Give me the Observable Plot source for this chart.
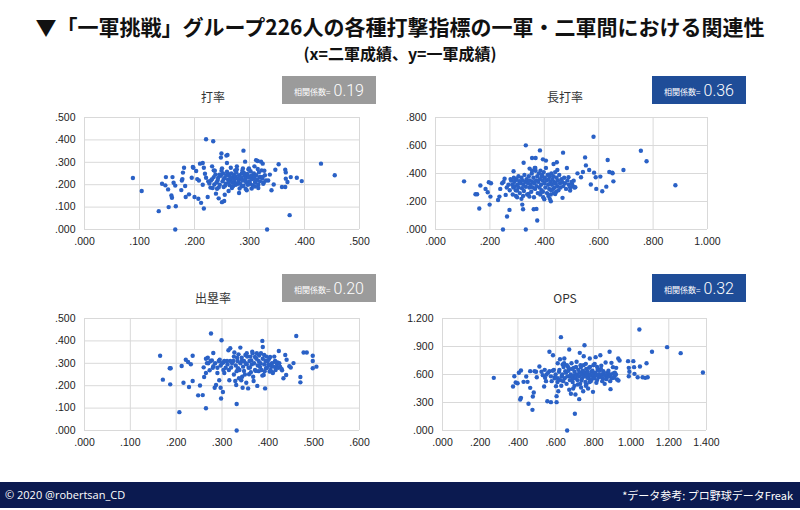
<!DOCTYPE html>
<html>
<head>
<meta charset="utf-8">
<script src="https://cdn.jsdelivr.net/npm/d3@7"></script>
<script src="https://cdn.jsdelivr.net/npm/@observablehq/plot@0.6"></script>
<style>
  html, body { margin: 0; padding: 0; background: #fff; }
  #root { position: relative; width: 800px; height: 510px; overflow: hidden; background: #fff; }
  .abs { position: absolute; }
  .title { left: 0; width: 800px; top: 15px; text-align: center; font-family: "Noto Sans CJK JP", sans-serif; font-weight: 700; font-size: 21px; line-height: 22px; color: #111; white-space: nowrap; }
  .subtitle { left: 0; width: 800px; top: 44px; text-align: center; font-family: "Noto Sans CJK JP", sans-serif; font-weight: 700; font-size: 16px; line-height: 18px; color: #111; white-space: nowrap; }
  .ptitle { width: 120px; text-align: center; font-family: "Noto Sans CJK JP", sans-serif; font-size: 12px; line-height: 16px; color: #333; }
  .badge { width: 94px; height: 28px; display: flex; align-items: center; justify-content: center; color: #fff; white-space: nowrap; }
  .badge .lab { font-family: "Noto Sans CJK JP", sans-serif; font-size: 8px; margin-right: 3px; margin-top: 3px; }
  .badge .val { font-family: Roboto, "Liberation Sans", sans-serif; font-weight: 300; font-size: 16px; }
  .footer { left: 0; top: 482px; width: 800px; height: 26px; background: #0b1a50; color: #fff; font-family: "Open Sans", "Liberation Sans", sans-serif; font-size: 11px; }
  .footer .l { position: absolute; left: 5px; top: 5px; }
  .footer .r { position: absolute; right: 7px; top: 5px; font-family: "Noto Sans CJK JP", sans-serif; }
</style>
</head>
<body>
<div id="root"></div>
<script>
// ---------- data (x = 二軍成績, y = 一軍成績) ----------
const avgTicksX = [0, 0.1, 0.2, 0.3, 0.4, 0.5];
const avgTicksY = [0, 0.1, 0.2, 0.3, 0.4, 0.5];
const slgTicksX = [0, 0.2, 0.4, 0.6, 0.8, 1.0];
const slgTicksY = [0, 0.2, 0.4, 0.6, 0.8];
const obpTicksX = [0, 0.1, 0.2, 0.3, 0.4, 0.5, 0.6];
const obpTicksY = [0, 0.1, 0.2, 0.3, 0.4, 0.5];
const opsTicksX = [0, 0.2, 0.4, 0.6, 0.8, 1.0, 1.2, 1.4];
const opsTicksY = [0, 0.3, 0.6, 0.9, 1.2];

const panelTitles = ["打率", "長打率", "出塁率", "OPS"];
const correlations = ["0.19", "0.36", "0.20", "0.32"];

// 打率
const avgPoints = [
[.088,.230],[.104,.172],[.135,.082],[.165,.000],[.166,.104],[.153,.100],[.221,.403],[.234,.394],[.289,.352],[.332,.000],
[.373,.064],[.430,.294],[.455,.242],[.395,.216],[.386,.231],[.375,.234],[.353,.291],[.365,.267],[.366,.255],[.347,.267],
[.344,.201],[.340,.175],[.365,.190],[.359,.190],[.369,.212],[.366,.227],[.337,.245],[.334,.219],
[.141,.204],[.148,.234],[.147,.197],[.152,.179],[.158,.152],[.159,.142],[.160,.234],[.162,.209],[.165,.196],[.177,.219],
[.176,.176],[.178,.225],[.181,.276],[.179,.254],[.183,.194],[.184,.145],[.190,.157],[.195,.231],[.197,.279],[.198,.276],
[.200,.145],[.203,.261],[.205,.225],[.207,.137],[.208,.219],[.210,.294],[.212,.119],[.215,.297],[.217,.094],[.215,.200],
[.217,.276],[.219,.249],[.221,.231],[.224,.145],[.225,.215],[.229,.187],[.230,.219],[.232,.282],[.235,.264],[.235,.234],
[.236,.201],[.239,.160],[.241,.182],[.242,.219],[.244,.139],[.245,.245],[.248,.321],[.249,.339],[.250,.273],[.250,.122],
[.254,.127],[.255,.155],[.253,.225],[.256,.196],[.258,.330],[.260,.333],[.259,.297],[.261,.249],[.262,.172],[.265,.219],
[.266,.276],[.268,.185],[.270,.234],[.273,.210],[.274,.264],[.277,.282],[.279,.204],[.281,.163],[.284,.225],[.286,.193],
[.288,.272],[.290,.252],[.292,.303],[.293,.219],[.295,.175],[.297,.236],[.299,.272],[.301,.204],[.304,.230],[.307,.245],
[.309,.282],[.310,.212],[.312,.309],[.315,.306],[.316,.185],[.318,.234],[.321,.303],[.322,.264],[.324,.294],[.325,.204],
[.328,.242],[.330,.219],
[.232,.225],[.238,.245],[.240,.210],[.243,.230],[.246,.200],[.248,.240],[.251,.215],[.252,.250],[.255,.230],[.257,.205],
[.259,.258],[.261,.222],[.263,.240],[.264,.198],[.266,.230],[.267,.250],[.269,.210],[.271,.245],[.272,.222],[.274,.238],
[.275,.200],[.276,.255],[.278,.228],[.280,.214],[.281,.242],[.283,.205],[.285,.232],[.286,.250],[.288,.218],[.289,.195],
[.291,.240],[.292,.226],[.294,.210],[.296,.248],[.297,.200],[.299,.232],[.300,.215],[.302,.260],[.303,.240],[.305,.225],
[.306,.198],[.308,.250],[.309,.230],[.311,.210],[.312,.242],[.314,.222],[.316,.200],[.317,.255],[.319,.215],[.320,.235],
[.323,.228],[.326,.210],[.227,.205],[.233,.185],[.237,.262],[.244,.188],[.249,.262],[.253,.190],[.258,.242],[.262,.210],
[.270,.193],[.277,.268],[.282,.183],[.287,.262],[.293,.182],[.298,.268],[.304,.183],[.310,.192],[.315,.270],[.324,.235],
[.327,.262]
];

// 長打率
const slgPoints = [
[.105,.344],[.147,.252],[.153,.252],[.161,.150],[.165,.314],[.184,.290],[.196,.337],[.192,.266],[.199,.178],[.202,.235],
[.204,.330],[.230,.211],[.238,.290],[.235,.235],[.248,.000],[.263,.093],[.272,.140],[.278,.349],[.258,.247],[.254,.363],
[.287,.416],[.294,.354],[.300,.278],[.316,.219],[.319,.178],[.322,.145],[.324,.477],[.332,.601],[.332,.000],[.334,.349],
[.342,.254],[.346,.435],[.355,.511],[.361,.145],[.371,.147],[.374,.064],[.368,.511],[.367,.439],[.384,.565],[.385,.259],
[.391,.378],[.395,.501],[.406,.492],[.400,.216],[.416,.392],[.420,.219],[.424,.202],[.434,.468],[.440,.254],[.446,.480],
[.448,.425],[.469,.549],[.467,.226],[.483,.439],[.489,.373],[.495,.278],[.502,.325],[.508,.349],[.514,.302],[.522,.401],
[.535,.373],[.542,.411],[.550,.515],[.553,.458],[.565,.425],[.571,.321],[.581,.663],[.583,.406],[.589,.373],[.591,.290],
[.606,.378],[.613,.273],[.628,.306],[.633,.496],[.639,.411],[.650,.406],[.654,.344],[.651,.401],[.691,.425],[.755,.563],
[.776,.487],[.882,.316],
[.282,.320],[.286,.300],[.290,.340],[.295,.280],[.298,.360],[.302,.320],[.305,.300],[.308,.345],[.310,.260],[.313,.330],
[.316,.370],[.318,.295],[.320,.350],[.323,.320],[.325,.275],[.327,.390],[.330,.340],[.332,.305],[.335,.360],[.337,.250],
[.340,.330],[.343,.380],[.345,.300],[.347,.350],[.350,.320],[.352,.270],[.354,.400],[.356,.340],[.358,.300],[.360,.370],
[.362,.230],[.364,.330],[.366,.290],[.368,.420],[.370,.350],[.372,.310],[.374,.380],[.376,.260],[.378,.340],[.380,.400],
[.382,.300],[.384,.360],[.386,.420],[.388,.320],[.390,.280],[.392,.390],[.394,.350],[.396,.230],[.398,.410],[.400,.330],
[.402,.370],[.404,.300],[.406,.440],[.408,.350],[.410,.260],[.412,.390],[.414,.320],[.416,.360],[.418,.290],[.420,.380],
[.422,.340],[.424,.250],[.426,.400],[.428,.320],[.430,.360],[.432,.290],[.434,.380],[.436,.340],[.438,.300],[.440,.410],
[.442,.330],[.445,.370],[.448,.310],[.450,.350],[.452,.280],[.455,.390],[.458,.330],[.460,.300],[.463,.360],[.466,.340],
[.470,.310],[.473,.370],[.476,.330],[.480,.290],[.485,.350],[.490,.320],[.495,.300],[.500,.340],[.505,.310],[.510,.300],
[.300,.230],[.305,.380],[.322,.240],[.345,.235],[.355,.420],[.365,.440],[.385,.250],[.395,.270],[.415,.240],[.425,.280],
[.435,.260],[.444,.270],[.245,.330],[.250,.340],[.262,.300],[.268,.320],[.273,.280],[.276,.360],[.284,.250],[.288,.370],
[.292,.310],[.296,.240]
];

// 出塁率
const obpPoints = [
[.165,.334],[.171,.227],[.186,.278],[.188,.278],[.187,.206],[.207,.082],[.212,.288],[.216,.213],[.221,.316],[.226,.306],
[.228,.194],[.232,.296],[.236,.221],[.236,.334],[.248,.157],[.252,.201],[.258,.158],[.260,.282],[.261,.239],[.265,.099],
[.265,.257],[.267,.301],[.269,.325],[.276,.433],[.273,.269],[.278,.313],[.281,.346],[.281,.287],[.284,.191],[.287,.203],
[.290,.257],[.294,.224],[.295,.316],[.297,.191],[.298,.143],[.299,.403],[.302,.172],[.303,.304],[.305,.257],[.311,.310],
[.314,.358],[.316,.224],[.318,.367],[.320,.281],[.325,.310],[.327,.348],[.329,.221],[.331,.203],[.332,.118],[.332,.000],
[.333,.325],[.335,.278],[.337,.233],[.340,.370],[.342,.224],[.343,.310],[.345,.191],[.348,.266],[.351,.337],[.353,.213],
[.354,.296],[.357,.188],[.359,.251],[.361,.281],[.364,.313],[.366,.352],[.369,.221],[.372,.328],[.374,.266],[.377,.199],
[.380,.310],[.383,.284],[.388,.400],[.389,.373],[.391,.248],[.392,.337],[.394,.188],[.396,.278],[.400,.310],[.404,.263],
[.405,.328],[.408,.288],[.411,.257],[.415,.307],[.418,.281],[.421,.304],[.424,.355],[.427,.284],[.431,.269],[.434,.233],
[.438,.337],[.440,.248],[.441,.316],[.447,.287],[.450,.281],[.456,.301],[.462,.422],[.471,.239],[.471,.215],[.478,.348],
[.485,.348],[.498,.334],[.498,.310],[.498,.278],[.506,.285],
[.322,.300],[.326,.330],[.330,.290],[.334,.310],[.336,.340],[.338,.270],[.340,.300],[.343,.325],[.346,.285],[.348,.310],
[.350,.250],[.352,.300],[.355,.330],[.358,.280],[.360,.310],[.363,.260],[.365,.295],[.367,.345],[.370,.300],[.372,.270],
[.375,.320],[.378,.290],[.381,.335],[.384,.300],[.386,.270],[.389,.320],[.392,.295],[.395,.310],[.398,.280],[.401,.295],
[.403,.320],[.406,.270],[.409,.300],[.412,.285],[.414,.330],[.417,.270],[.420,.295],[.423,.280],[.326,.250],[.332,.265],
[.344,.240],[.354,.345],[.362,.330],[.368,.240],[.376,.345],[.380,.265],[.385,.345],[.388,.245],[.393,.265],[.397,.330],
[.404,.290],[.410,.260],[.416,.310],[.425,.300],[.430,.275],[.285,.300],[.290,.280],[.293,.310],[.297,.290],[.300,.300],
[.305,.310],[.308,.280],[.312,.295],[.315,.270],[.318,.310],[.275,.310],[.280,.280],[.270,.300],[.265,.320],[.303,.270]
];

// OPS
const opsPoints = [
[.272,.564],[.374,.471],[.381,.582],[.388,.514],[.398,.507],[.405,.618],[.416,.643],[.416,.350],[.412,.332],[.430,.521],
[.444,.579],[.451,.521],[.456,.286],[.465,.457],[.465,.636],[.477,.221],[.479,.364],[.484,.407],[.488,.636],[.496,.629],
[.500,.571],[.514,.686],[.525,.629],[.532,.593],[.542,.650],[.544,.564],[.539,.471],[.549,.529],[.556,.314],[.567,.636],
[.567,.843],[.575,.304],[.579,.529],[.586,.807],[.591,.650],[.596,.571],[.602,.475],[.605,.368],[.605,.304],[.611,.721],
[.614,.421],[.618,.629],[.623,.764],[.628,1.000],[.632,.582],[.637,.707],[.640,.529],[.646,.771],[.651,.636],[.658,.500],
[.661,.000],[.667,.679],[.672,.868],[.672,.436],[.675,.582],[.681,.393],[.684,.721],[.689,.557],[.693,.450],[.696,.671],
[.702,.179],[.705,.386],[.711,.736],[.714,.593],[.718,.493],[.725,.336],[.728,.832],[.732,.700],[.737,.536],[.742,.636],
[.746,.421],[.749,.796],[.753,.914],[.754,.593],[.760,.714],[.763,.493],[.768,.564],[.772,.450],[.777,.671],[.781,.771],
[.786,.529],[.791,.629],[.798,.414],[.802,.579],[.807,.714],[.812,.786],[.816,.511],[.823,.650],[.830,.571],[.837,.807],
[.842,.693],[.847,.529],[.853,.636],[.860,.500],[.865,.729],[.872,.571],[.877,.618],[.886,.843],[.889,.529],[.891,.443],
[.896,.725],[.904,.679],[.909,.564],[.914,.618],[.921,.671],[.926,.546],[.932,.771],[.939,.750],[.933,.536],[.984,.743],
[.988,.671],[.988,.582],[.991,.629],[1.012,.743],[1.016,.679],[1.018,.607],[1.035,.571],[1.044,1.082],[1.047,.686],[1.061,.571],
[1.075,.564],[1.082,.721],[1.088,.571],[1.111,.843],[1.191,.893],[1.263,.829],[1.381,.621],
[.600,.600],[.612,.560],[.620,.650],[.626,.540],[.635,.600],[.642,.680],[.648,.560],[.655,.620],[.662,.580],[.668,.640],
[.675,.540],[.680,.600],[.686,.660],[.690,.520],[.695,.590],[.700,.630],[.705,.560],[.708,.680],[.712,.600],[.716,.540],
[.720,.650],[.723,.580],[.726,.620],[.730,.500],[.734,.680],[.738,.600],[.740,.560],[.744,.640],[.748,.700],[.751,.580],
[.755,.620],[.758,.520],[.762,.660],[.765,.600],[.770,.630],[.774,.560],[.778,.600],[.782,.680],[.785,.590],[.790,.550],
[.795,.640],[.800,.600],[.805,.560],[.810,.620],[.815,.590],[.820,.540],[.826,.600],[.832,.640],[.838,.580],[.845,.600],
[.850,.560],[.856,.620],[.862,.590],[.868,.550],[.875,.600],[.880,.640],[.885,.580],[.892,.600],[.898,.560],[.905,.610],
[.912,.580],[.920,.600],[.552,.600],[.560,.620],[.575,.580],[.585,.640],[.595,.560],[.610,.520],[.630,.480],[.645,.720],
[.660,.700],[.700,.480],[.735,.460],[.760,.480],[.780,.520],[.800,.700],[.820,.680],[.840,.660]
];

// ---------- rendering ----------
const root = document.getElementById("root");
function add(cls, style, html) {
  const d = document.createElement("div");
  d.className = "abs " + cls;
  Object.assign(d.style, style);
  d.innerHTML = html;
  root.appendChild(d);
  return d;
}

add("title", {}, "▼「一軍挑戦」グループ226人の各種打撃指標の一軍・二軍間における関連性");
add("subtitle", {}, "(x=二軍成績、y=一軍成績)");

const fmt = v => { const s = d3.format(".3f")(v); return s.startsWith("0") ? s.slice(1) : s; };

function panel(data, o) {
  const chart = Plot.plot({
    width: o.width, height: 150,
    marginLeft: o.ml, marginRight: o.mr, marginTop: 12, marginBottom: 26,
    style: { fontFamily: "'Liberation Sans', Arial, sans-serif", fontSize: "10.5px", color: "#1e1e1e", background: "transparent", overflow: "visible" },
    x: { domain: o.xDomain },
    y: { domain: o.yDomain },
    marks: [
      Plot.gridX(o.xTicks, { stroke: "#d9d9d9", strokeOpacity: 1 }),
      Plot.gridY(o.yTicks, { stroke: "#d9d9d9", strokeOpacity: 1 }),
      Plot.axisX(o.xTicks, { tickSize: 0, tickPadding: 8, tickFormat: fmt, label: null }),
      Plot.axisY(o.yTicks, { tickSize: 0, tickPadding: 9, tickFormat: fmt, label: null }),
      Plot.dot(data, { x: d => d[0], y: d => d[1], r: 2.2, fill: "#2a61c6", stroke: "none" })
    ]
  });
  chart.style.position = "absolute";
  chart.style.left = o.left + "px";
  chart.style.top = o.top + "px";
  root.appendChild(chart);
}

panel(avgPoints, { left: 30, top: 105, width: 340, ml: 54, mr: 11, xDomain: [0, 0.5], yDomain: [0, 0.5], xTicks: avgTicksX, yTicks: avgTicksY });
panel(slgPoints, { left: 395, top: 105, width: 320, ml: 40, mr: 8, xDomain: [0, 1.0], yDomain: [0, 0.8], xTicks: slgTicksX, yTicks: slgTicksY });
panel(obpPoints, { left: 30, top: 306, width: 340, ml: 54, mr: 11, xDomain: [0, 0.6], yDomain: [0, 0.5], xTicks: obpTicksX, yTicks: obpTicksY });
panel(opsPoints, { left: 395, top: 306, width: 320, ml: 47, mr: 9, xDomain: [0, 1.4], yDomain: [0, 1.2], xTicks: opsTicksX, yTicks: opsTicksY });

// panel titles
const titlePos = [[213, 89], [565, 89], [213, 290], [565, 290]];
panelTitles.forEach((t, i) => add("ptitle", { left: (titlePos[i][0] - 60) + "px", top: titlePos[i][1] + "px" }, t));

// correlation badges
const badgePos = [[282, 76, "#9b9b9b"], [652, 76, "#1f4d98"], [282, 274, "#9b9b9b"], [652, 274, "#1f4d98"]];
correlations.forEach((c, i) => add("badge", { left: badgePos[i][0] + "px", top: badgePos[i][1] + "px", background: badgePos[i][2] },
  '<span class="lab">相関係数=</span><span class="val">' + c + '</span>'));

// footer
add("footer", {}, '<span class="l">© 2020 @robertsan_CD</span><span class="r">*データ参考: プロ野球データFreak</span>');
</script>
</body>
</html>
